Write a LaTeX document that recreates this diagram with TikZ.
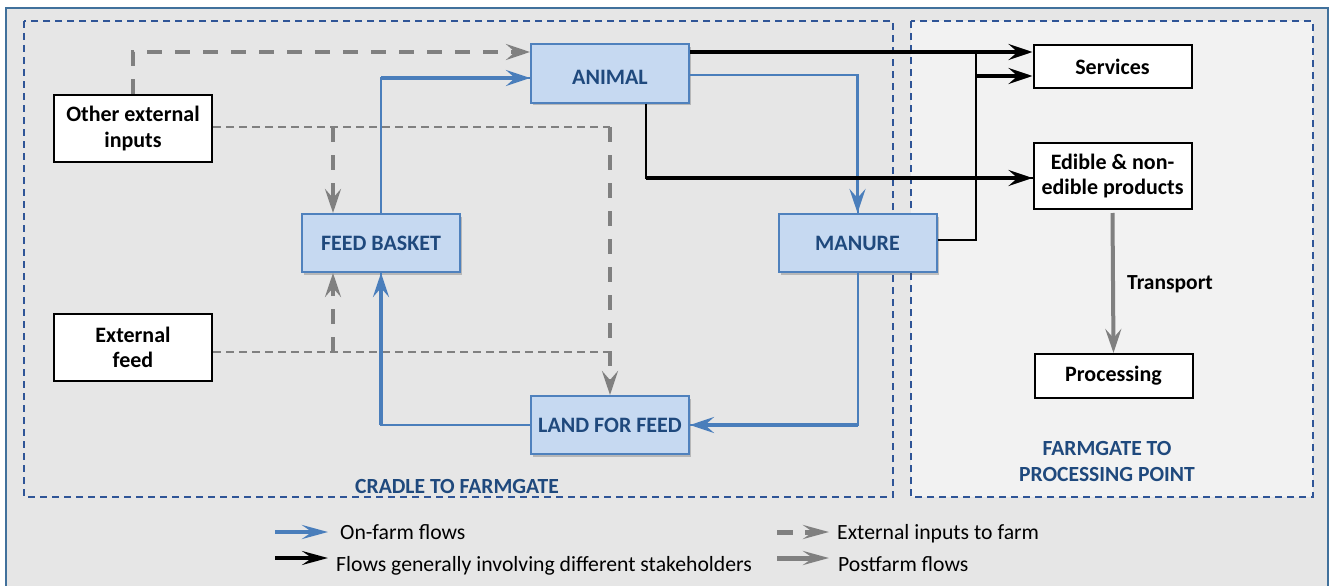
\documentclass[tikz,border=0pt]{standalone}
\usepackage{fontspec}
\setmainfont{Carlito}
\usetikzlibrary{arrows.meta,shadows,calc}

\definecolor{framebg}{RGB}{230,230,230}
\definecolor{postbg}{RGB}{242,242,242}
\definecolor{outerline}{RGB}{65,113,156}
\definecolor{zoneline}{RGB}{47,85,151}
\definecolor{boxfill}{RGB}{198,217,241}
\definecolor{boxline}{RGB}{79,129,189}
\definecolor{boxtext}{RGB}{31,73,125}
\definecolor{flowblue}{RGB}{74,126,187}
\definecolor{flowgray}{RGB}{128,128,128}

\begin{document}
\begin{tikzpicture}[x=1pt,y=-1pt,
  zone/.style={draw=zoneline, line width=1.5pt, dash pattern=on 7pt off 5pt},
  stage/.style={draw=boxline, line width=2pt, fill=boxfill, text=boxtext,
    font=\fontsize{22}{26}\selectfont\bfseries, minimum width=158pt,
    minimum height=58pt, inner sep=0pt,
    drop shadow={shadow xshift=2pt, shadow yshift=-2.5pt, opacity=0.3, fill=black!70}},
  item/.style={draw=black, line width=2pt, fill=white, align=center,
    font=\fontsize{22}{25.5}\selectfont\bfseries, minimum width=158pt, inner sep=0pt},
  zonelabel/.style={text=boxtext, align=center, inner sep=0pt,
    font=\fontsize{21.6}{26}\selectfont\bfseries},
  legtext/.style={anchor=base west, inner sep=0pt, font=\fontsize{21.7}{25}\selectfont},
  tipb/.style={-{Stealth[length=24pt,width=16pt,inset=9pt,fill=flowblue]}},
  tipk/.style={-{Stealth[length=24pt,width=16pt,inset=9pt,fill=black]}},
  tipg/.style={-{Stealth[length=24pt,width=16pt,inset=9pt,fill=flowgray]}},
  bthin/.style={draw=flowblue, line width=2pt},
  bthick/.style={draw=flowblue, line width=3.2pt},
  kthin/.style={draw=black, line width=2pt},
  kthick/.style={draw=black, line width=3.5pt},
  gthin/.style={draw=flowgray, line width=2pt, dash pattern=on 8pt off 5pt},
  gthick/.style={draw=flowgray, line width=4pt, dash pattern=on 15pt off 13pt},
  gsolid/.style={draw=flowgray, line width=4pt},
]
\useasboundingbox (0,0) rectangle (1330,586);
\clip (0,0) rectangle (1330,586);

% background panel and the two system boundaries
\fill[framebg] (6,8) rectangle (1328,620);
\draw[outerline, line width=1.5pt] (6,620) -- (6,8) -- (1328,8) -- (1328,620);
\fill[framebg] (24,21) rectangle (893,497);
\draw[zone] (24,21) rectangle (893,497);
\fill[postbg] (911,21) rectangle (1313,497);
\draw[zone] (911,21) rectangle (1313,497);

\node[zonelabel] (cradle) at (457,486) {CRADLE TO FARMGATE};
\node[zonelabel] (post) at (1107,461) {FARMGATE TO\\PROCESSING POINT};

% farm stages
\node[stage] (animal) at (610,73.5) {\raisebox{-4pt}[\height][0pt]{ANIMAL}};
\node[stage] (fb) at (381,243) {FEED BASKET};
\node[stage] (manure) at (857.5,243) {MANURE};
\node[stage] (land) at (610,425) {LAND FOR FEED};

% external inputs and post-farm boxes
\node[item, minimum height=67pt] (oei) at (133,128.5) {Other external\\inputs};
\node[item, minimum height=67pt] (ef) at (133,347.5) {External\\feed};
\node[item, minimum height=43pt] (services) at (1112.5,66.5) {Services};
\node[item, minimum height=66pt] (edible) at (1112.5,176) {Edible \& non-\\edible products};
\node[item, minimum height=44pt] (processing) at (1113.5,376) {Processing};

% attachment points
\coordinate (anim-ext) at ([yshift=21.5pt]animal.west);
\coordinate (anim-feed) at ([yshift=-4.5pt]animal.west);
\coordinate (anim-man) at ([yshift=-1.5pt]animal.east);
\coordinate (anim-out) at ([yshift=21.5pt]animal.east);
\coordinate (anim-prod) at ([xshift=36pt]animal.south);
\coordinate (edible-in) at ([yshift=-2pt]edible.west);
\coordinate (serv-in) at ([yshift=-9.5pt]services.west);
\coordinate (man-out) at ([yshift=3pt]manure.east);
\coordinate (ef-out) at ([yshift=-4.5pt]ef.east);
\coordinate (oei-out) at ([yshift=1.5pt]oei.east);
\coordinate (fb-top) at ([xshift=-48pt]fb.north);
\coordinate (fb-bot) at ([xshift=-48pt]fb.south);
\coordinate (j) at (976,52);

% external inputs to farm
\draw[gthick,tipg] (oei.north) |- (anim-ext);
\draw[gthin] (oei-out) -- (land.north |- oei-out);
\draw[gthick,tipg] (land.north |- oei-out) -- (land.north);
\draw[gthick,tipg] (fb-top |- oei-out) -- (fb-top);
\draw[gthin] (ef-out) -- (land.north |- ef-out);
\draw[gthick,tipg] (fb-bot |- ef-out) -- (fb-bot);

% on-farm flows
\draw[bthin] (fb.north) |- (anim-feed);
\draw[bthick,tipb] (fb.north |- anim-feed) -- (anim-feed);
\draw[bthin] (anim-man) -| (manure.north);
\draw[bthick,tipb] (manure.north |- anim-man) -- (manure.north);
\draw[bthin] (manure.south) |- (land.east);
\draw[bthick,tipb] (manure.south |- land.east) -- (land.east);
\draw[bthin] (land.west) -| (fb.south);
\draw[bthick,tipb] (fb.south |- land.west) -- (fb.south);

% flows to other stakeholders
\draw[kthick,tipk] (anim-out) -- (anim-out -| services.west);
\draw[kthin] (man-out) -| (j);
\draw[kthick,tipk] (j |- serv-in) -- (serv-in);
\draw[kthin] (anim-prod) |- (edible-in);
\draw[kthick,tipk] (anim-prod |- edible-in) -- (edible-in);

% postfarm flow
\draw[gsolid,tipg] ([yshift=-3pt]edible.south) -- (processing.north);
\node[anchor=west, inner sep=0pt, font=\fontsize{21.5}{25}\selectfont\bfseries] (transport) at (1127,284) {Transport};

% legend
\coordinate (l1a) at (275,532); \coordinate (l1b) at (328,532);
\coordinate (l2a) at (275,558); \coordinate (l2b) at (328,558);
\coordinate (l3a) at (777,532); \coordinate (l3b) at (829,532);
\coordinate (l4a) at (777,558); \coordinate (l4b) at (829,558);
\draw[draw=flowblue, line width=4.5pt, -{Stealth[length=26pt,width=14pt,inset=10pt,fill=flowblue]}] (l1a) -- (l1b);
\draw[draw=black, line width=3.5pt, -{Stealth[length=26pt,width=14pt,inset=10pt,fill=black]}] (l2a) -- (l2b);
\draw[draw=flowgray, line width=5pt, dash pattern=on 16pt off 12pt, -{Stealth[length=26pt,width=14pt,inset=10pt,fill=flowgray]}] (l3a) -- (l3b);
\draw[draw=flowgray, line width=5pt, -{Stealth[length=26pt,width=14pt,inset=10pt,fill=flowgray]}] (l4a) -- (l4b);
\node[legtext] (lt1) at (340,539) {On-farm flows};
\node[legtext] (lt2) at (336,571) {Flows generally involving different stakeholders};
\node[legtext] (lt3) at (837,539) {External inputs to farm};
\node[legtext] (lt4) at (838,571) {Postfarm flows};
\end{tikzpicture}
\end{document}
